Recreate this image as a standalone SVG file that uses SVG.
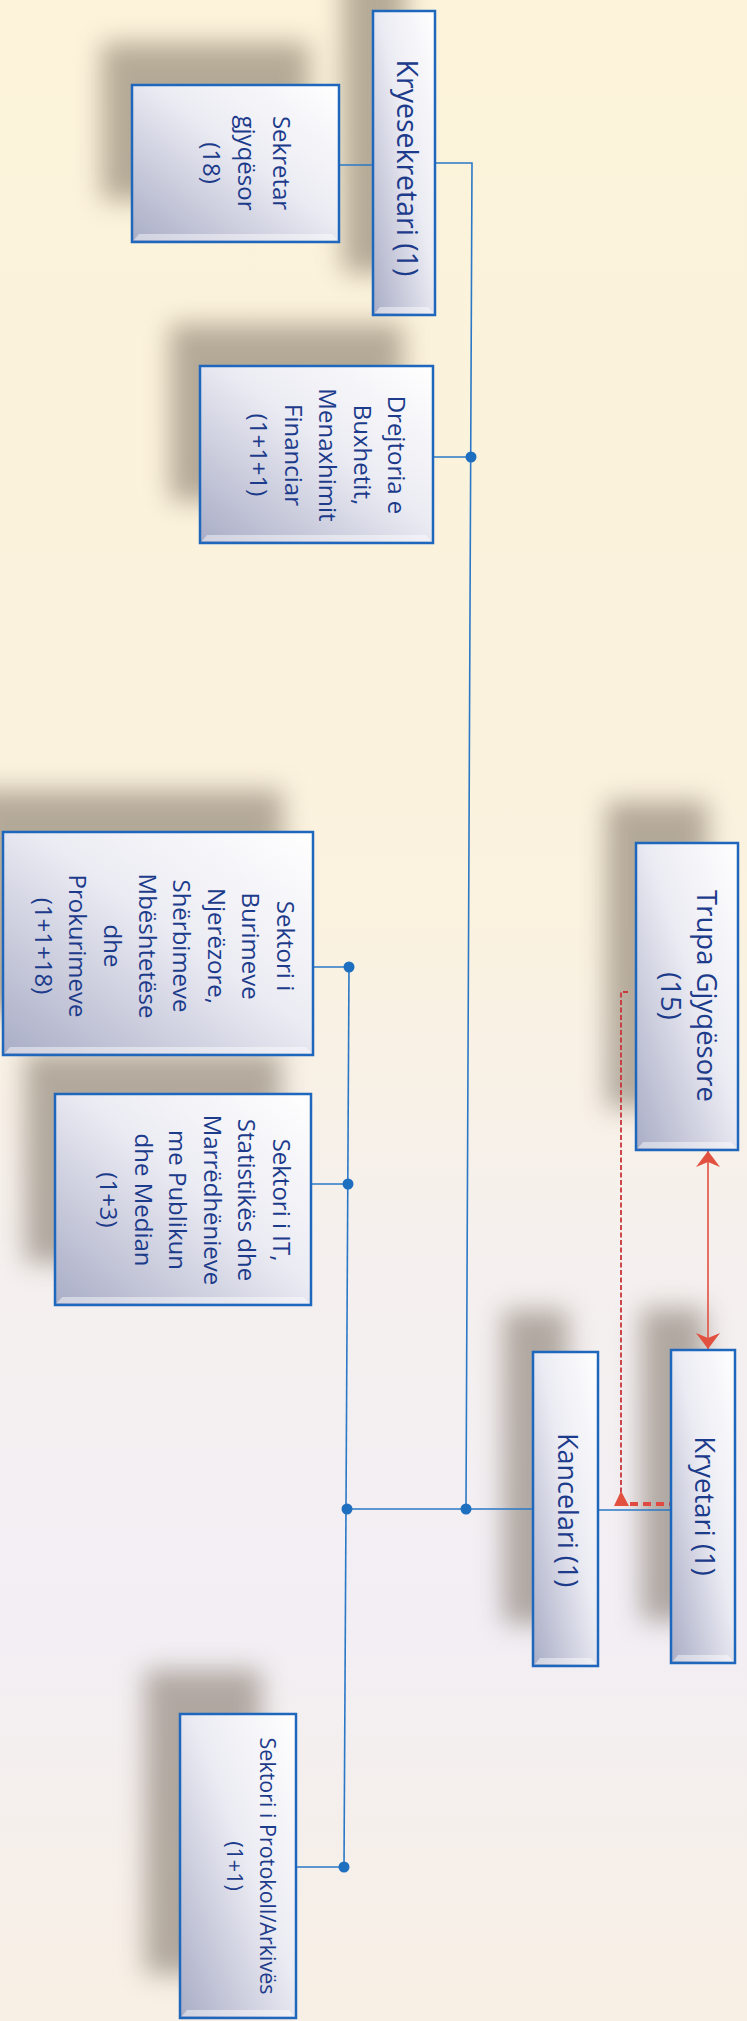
<svg xmlns="http://www.w3.org/2000/svg" width="747" height="2021" viewBox="0 0 747 2021">
<defs>
<linearGradient id="bg" x1="0" y1="0" x2="0" y2="1">
<stop offset="0" stop-color="#fcf3da"/>
<stop offset="0.45" stop-color="#fbf2df"/>
<stop offset="0.62" stop-color="#f5f0ee"/>
<stop offset="0.8" stop-color="#f2eef4"/>
<stop offset="1" stop-color="#f8f0e4"/>
</linearGradient>
<linearGradient id="box" x1="1" y1="0" x2="0" y2="1">
<stop offset="0" stop-color="#ffffff"/>
<stop offset="0.45" stop-color="#ebebf3"/>
<stop offset="1" stop-color="#a9adc6"/>
</linearGradient>
<filter id="blur" x="-50%" y="-50%" width="200%" height="200%">
<feGaussianBlur stdDeviation="13"/>
</filter>
<marker id="ah" viewBox="0 0 16 24" markerWidth="16" markerHeight="24" refX="16" refY="12" orient="auto-start-reverse" markerUnits="userSpaceOnUse">
<path d="M0,0 L16,12 L0,24 L5,12 z" fill="#e2503f"/>
</marker>
<style>
.sh{fill:#6e6252;opacity:0.5;filter:url(#blur)}
.bx{fill:url(#box);stroke:#1f67bd;stroke-width:2.5}
.bv{fill:#ffffff;opacity:0.45}
.t{font-family:"Open Sans","Noto Sans","Liberation Sans",sans-serif;font-size:24px;fill:#1d3b8b;text-anchor:middle}
.ln{stroke:#2a78c6;stroke-width:1.6;fill:none}
.dot{fill:#1f6fc0}
</style>
</defs>
<rect x="0" y="0" width="747" height="2021" fill="url(#bg)"/>

<g id="shadows">
<rect class="sh" x="343" y="-31" width="62" height="304"/>
<rect class="sh" x="102" y="43" width="207" height="157"/>
<rect class="sh" x="170" y="324" width="233" height="177"/>
<rect class="sh" x="-27" y="790" width="310" height="223"/>
<rect class="sh" x="25" y="1052" width="256" height="211"/>
<rect class="sh" x="606" y="801" width="102" height="307"/>
<rect class="sh" x="503" y="1310" width="65" height="314"/>
<rect class="sh" x="641" y="1308" width="64" height="313"/>
<rect class="sh" x="145" y="1670" width="116" height="304"/>
</g>

<g id="connectors">
<line class="ln" x1="339" y1="165" x2="373" y2="165"/>
<polyline class="ln" points="435,163 472,163 466,1509"/>
<line class="ln" x1="433" y1="457" x2="471" y2="457"/>
<line class="ln" x1="347" y1="1509" x2="533" y2="1509"/>
<line class="ln" x1="598" y1="1510" x2="671" y2="1510"/>
<line class="ln" x1="349" y1="967" x2="344" y2="1867"/>
<line class="ln" x1="313" y1="967" x2="349" y2="967"/>
<line class="ln" x1="311" y1="1184" x2="348" y2="1184"/>
<line class="ln" x1="296" y1="1867" x2="344" y2="1867"/>
<circle class="dot" cx="471" cy="457" r="5.5"/>
<circle class="dot" cx="466" cy="1509" r="5.5"/>
<circle class="dot" cx="347" cy="1509" r="5.5"/>
<circle class="dot" cx="349" cy="967" r="5.5"/>
<circle class="dot" cx="348" cy="1184" r="5.5"/>
<circle class="dot" cx="344" cy="1867" r="5.5"/>
<line x1="708" y1="1151" x2="708" y2="1349" stroke="#e2503f" stroke-width="1.6" marker-start="url(#ah)" marker-end="url(#ah)"/>
<polyline points="628,992 621,992 621,1494" fill="none" stroke="#c8363a" stroke-width="1.8" stroke-dasharray="5,2.5"/>
<line x1="630" y1="1504" x2="671" y2="1504" stroke="#e04a40" stroke-width="4" stroke-dasharray="8,5"/>
<polygon points="621,1491 614,1506 629,1506" fill="#e2503f"/>
</g>

<g id="kryesekretari">
<rect class="bx" x="373" y="11" width="62" height="304"/>
<path class="bv" d="M375,313 L433,313 L428,307 L380,307 z"/>
<text class="t" style="font-size:28.5px" transform="translate(397,168) rotate(90)">Kryesekretari (1)</text>
</g>

<g id="sekretar">
<rect class="bx" x="132" y="85" width="207" height="157"/>
<path class="bv" d="M134,240 L337,240 L332,234 L139,234 z"/>
<text class="t" transform="translate(273,163) rotate(90)"><tspan x="0" y="0">Sekretar</tspan><tspan x="0" y="35">gjyqësor</tspan><tspan x="0" y="70">(18)</tspan></text>
</g>

<g id="drejtoria">
<rect class="bx" x="200" y="366" width="233" height="177"/>
<path class="bv" d="M202,541 L431,541 L426,535 L207,535 z"/>
<text class="t" transform="translate(388,455) rotate(90)"><tspan x="0" y="0">Drejtoria e</tspan><tspan x="0" y="34.5">Buxhetit,</tspan><tspan x="0" y="69">Menaxhimit</tspan><tspan x="0" y="103.5">Financiar</tspan><tspan x="0" y="138">(1+1+1)</tspan></text>
</g>

<g id="burimeve">
<rect class="bx" x="3" y="832" width="310" height="223"/>
<path class="bv" d="M5,1053 L311,1053 L306,1047 L10,1047 z"/>
<text class="t" transform="translate(277,946) rotate(90)"><tspan x="0" y="0">Sektori i</tspan><tspan x="0" y="34.6">Burimeve</tspan><tspan x="0" y="69.2">Njerëzore,</tspan><tspan x="0" y="103.8">Shërbimeve</tspan><tspan x="0" y="138.4">Mbështetëse</tspan><tspan x="0" y="173">dhe</tspan><tspan x="0" y="207.6">Prokurimeve</tspan><tspan x="0" y="242.2">(1+1+18)</tspan></text>
</g>

<g id="sektori-it">
<rect class="bx" x="55" y="1094" width="256" height="211"/>
<path class="bv" d="M57,1303 L309,1303 L304,1297 L62,1297 z"/>
<text class="t" transform="translate(273,1200) rotate(90)"><tspan x="0" y="0">Sektori i IT,</tspan><tspan x="0" y="34.6">Statistikës dhe</tspan><tspan x="0" y="69.2">Marrëdhënieve</tspan><tspan x="0" y="103.8">me Publikun</tspan><tspan x="0" y="138.4">dhe Median</tspan><tspan x="0" y="173">(1+3)</tspan></text>
</g>

<g id="trupa">
<rect class="bx" x="636" y="843" width="102" height="307"/>
<path class="bv" d="M638,1148 L736,1148 L731,1142 L643,1142 z"/>
<text class="t" style="font-size:27.5px" transform="translate(697,996) rotate(90)"><tspan x="0" y="0">Trupa Gjyqësore</tspan><tspan x="0" y="36">(15)</tspan></text>
</g>

<g id="kancelari">
<rect class="bx" x="533" y="1352" width="65" height="314"/>
<path class="bv" d="M535,1664 L596,1664 L591,1658 L540,1658 z"/>
<text class="t" style="font-size:27px" transform="translate(558,1510) rotate(90)">Kancelari (1)</text>
</g>

<g id="kryetari">
<rect class="bx" x="671" y="1350" width="64" height="313"/>
<path class="bv" d="M673,1661 L733,1661 L728,1655 L678,1655 z"/>
<text class="t" style="font-size:27.5px" transform="translate(695,1506) rotate(90)">Kryetari (1)</text>
</g>

<g id="protokoll">
<rect class="bx" x="180" y="1714" width="116" height="304"/>
<path class="bv" d="M182,2016 L294,2016 L289,2010 L187,2010 z"/>
<text class="t" style="font-size:21.5px" transform="translate(260,1866) rotate(90)"><tspan x="0" y="0">Sektori i Protokoll/Arkivës</tspan><tspan x="0" y="33">(1+1)</tspan></text>
</g>
</svg>
